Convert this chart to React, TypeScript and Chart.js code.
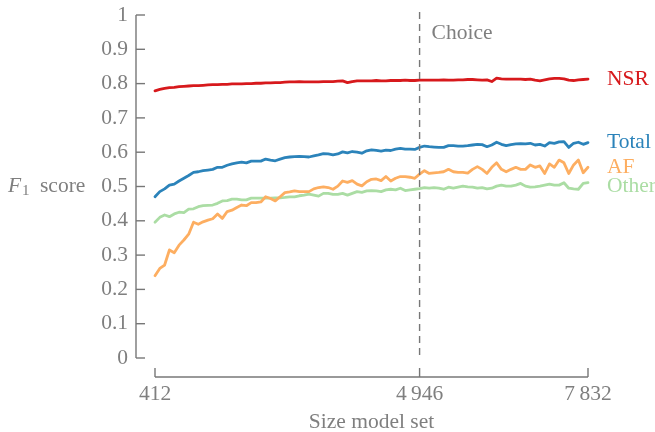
import { useEffect, useRef } from 'react';
import { Chart, registerables } from 'chart.js';

Chart.register(...registerables);

// ---------- data ----------
const xStart = 412;
const xEnd = 7832;
const choiceSize = 4946;
const nPoints = 91;
const sizes: number[] = Array.from({ length: nPoints }, (_, i) => Math.round(xStart + (i * (xEnd - xStart)) / (nPoints - 1)));

const nsr = [
  0.779, 0.783, 0.786, 0.788, 0.789, 0.791, 0.792, 0.793, 0.794, 0.794, 0.795, 0.796, 0.797, 0.797, 0.798, 0.798,
  0.799, 0.799, 0.799, 0.8, 0.8, 0.801, 0.801, 0.802, 0.802, 0.803, 0.803, 0.804, 0.805, 0.805, 0.806,
  0.805, 0.805, 0.805, 0.805, 0.806, 0.806, 0.806, 0.807, 0.808, 0.803, 0.806, 0.808, 0.808, 0.808, 0.808, 0.809,
  0.808, 0.808, 0.809, 0.809, 0.809, 0.81, 0.809, 0.809, 0.81, 0.81, 0.81, 0.81, 0.81, 0.811, 0.81,
  0.81, 0.811, 0.811, 0.812, 0.812, 0.811, 0.81, 0.811, 0.806, 0.816, 0.814, 0.813, 0.813, 0.813, 0.813, 0.812,
  0.813, 0.81, 0.808, 0.811, 0.814, 0.815, 0.815, 0.814, 0.81, 0.809, 0.811, 0.812, 0.813,
];

const total = [
  0.47, 0.485, 0.493, 0.504, 0.507, 0.516, 0.524, 0.532, 0.541, 0.543, 0.546, 0.548, 0.55, 0.556, 0.556, 0.562,
  0.566, 0.569, 0.571, 0.569, 0.574, 0.574, 0.574, 0.58, 0.577, 0.575, 0.58, 0.584, 0.586, 0.587, 0.588,
  0.587, 0.586, 0.589, 0.592, 0.596, 0.595, 0.592, 0.595, 0.601, 0.598, 0.602, 0.6, 0.597, 0.604, 0.607, 0.605,
  0.603, 0.606, 0.605, 0.609, 0.611, 0.609, 0.609, 0.608, 0.614, 0.618, 0.616, 0.615, 0.614, 0.614, 0.619,
  0.619, 0.618, 0.618, 0.619, 0.621, 0.623, 0.622, 0.616, 0.621, 0.629, 0.623, 0.619, 0.622, 0.624, 0.625, 0.624,
  0.626, 0.621, 0.623, 0.618, 0.628, 0.626, 0.63, 0.631, 0.614, 0.626, 0.629, 0.623, 0.628,
];

const af = [
  0.24, 0.261, 0.271, 0.315, 0.307, 0.329, 0.344, 0.361, 0.396, 0.39, 0.397, 0.402, 0.406, 0.42, 0.407, 0.427,
  0.431, 0.439, 0.446, 0.444, 0.453, 0.453, 0.455, 0.47, 0.465, 0.458, 0.47, 0.482, 0.484, 0.487, 0.485,
  0.485, 0.485, 0.493, 0.497, 0.499, 0.497, 0.492, 0.501, 0.516, 0.512, 0.517, 0.507, 0.502, 0.514, 0.521, 0.522,
  0.517, 0.529, 0.516, 0.524, 0.529, 0.529, 0.527, 0.524, 0.536, 0.546, 0.538, 0.54, 0.541, 0.543, 0.55,
  0.543, 0.541, 0.541, 0.539, 0.55, 0.558, 0.55, 0.538, 0.556, 0.569, 0.55, 0.543, 0.55, 0.556, 0.55, 0.55,
  0.563, 0.556, 0.56, 0.538, 0.566, 0.556, 0.577, 0.569, 0.538, 0.563, 0.577, 0.54, 0.556,
];

const other = [
  0.396, 0.41, 0.417, 0.412, 0.42, 0.425, 0.424, 0.434, 0.435, 0.441, 0.444, 0.445, 0.446, 0.451, 0.458, 0.459,
  0.463, 0.463, 0.461, 0.461, 0.466, 0.466, 0.466, 0.466, 0.466, 0.467, 0.467, 0.468, 0.47, 0.47, 0.473,
  0.475, 0.478, 0.475, 0.472, 0.48, 0.48, 0.477, 0.477, 0.48, 0.475, 0.48, 0.485, 0.483, 0.487, 0.488, 0.487,
  0.485, 0.49, 0.492, 0.49, 0.495, 0.488, 0.49, 0.492, 0.494, 0.497, 0.495, 0.497, 0.495, 0.492, 0.498,
  0.495, 0.498, 0.501, 0.499, 0.498, 0.495, 0.497, 0.493, 0.495, 0.501, 0.504, 0.501, 0.501, 0.504, 0.509, 0.501,
  0.498, 0.499, 0.501, 0.504, 0.507, 0.504, 0.504, 0.511, 0.495, 0.493, 0.492, 0.509, 0.511,
];

const seriesNames = ['NSR', 'Total', 'AF', 'Other'];
const seriesValues = [nsr, total, af, other];
const seriesColors = ['#d7191c', '#2b83ba', '#fdae61', '#abdda4'];
const labelOffsets = [0, 0, 0, 4];

const yTickValues = [0, 0.1, 0.2, 0.3, 0.4, 0.5, 0.6, 0.7, 0.8, 0.9, 1];
const yTickLabels = ['0', '0.1', '0.2', '0.3', '0.4', '0.5', '0.6', '0.7', '0.8', '0.9', '1'];
const xTickValues = [412, 4946, 7832];
const xTickLabels = ['412', '4\u2009946', '7\u2009832'];
const xTitle = 'Size model set';
const choiceLabel = 'Choice';

// ---------- style ----------
const FONT = '"Liberation Serif", "DejaVu Serif", serif';
const FS = 21.5;
const TEXT = '#7f7f7f';
const AXIS = '#777777';

const overlay = {
  id: 'overlay',
  afterDraw(chart: any) {
    const { ctx, chartArea: a, scales } = chart;
    const x = scales.x;
    const y = scales.y;
    ctx.save();
    ctx.strokeStyle = AXIS;
    ctx.lineWidth = 1.4;

    // choice dashed line
    const cx = x.getPixelForValue(choiceSize);
    ctx.setLineDash([7, 5]);
    ctx.beginPath();
    ctx.moveTo(cx, a.top - 3);
    ctx.lineTo(cx, a.bottom);
    ctx.stroke();
    ctx.setLineDash([]);

    ctx.fillStyle = TEXT;
    ctx.font = `${FS}px ${FONT}`;
    ctx.textAlign = 'left';
    ctx.textBaseline = 'middle';
    ctx.fillText(choiceLabel, cx + 12, a.top + 18);

    // y axis
    const ax = a.left;
    ctx.beginPath();
    ctx.moveTo(ax, y.getPixelForValue(1));
    ctx.lineTo(ax, y.getPixelForValue(0));
    ctx.stroke();
    ctx.textAlign = 'right';
    yTickValues.forEach((v, i) => {
      const py = y.getPixelForValue(v);
      ctx.beginPath();
      ctx.moveTo(ax, py);
      ctx.lineTo(ax + 9, py);
      ctx.stroke();
      ctx.fillText(yTickLabels[i], ax - 8, py);
    });

    // x axis (separate, below)
    const ay = a.bottom + 19;
    ctx.beginPath();
    ctx.moveTo(x.getPixelForValue(xTickValues[0]), ay);
    ctx.lineTo(x.getPixelForValue(xTickValues[xTickValues.length - 1]), ay);
    ctx.stroke();
    ctx.textAlign = 'center';
    xTickValues.forEach((v, i) => {
      const px = x.getPixelForValue(v);
      ctx.beginPath();
      ctx.moveTo(px, ay);
      ctx.lineTo(px, ay - 9);
      ctx.stroke();
      ctx.fillText(xTickLabels[i], px, ay + 17);
    });
    const midX = (x.getPixelForValue(xTickValues[0]) + x.getPixelForValue(xTickValues[xTickValues.length - 1])) / 2;
    ctx.fillText(xTitle, midX, ay + 45);

    // y title: F_1 score
    const ty = y.getPixelForValue(0.5);
    ctx.textAlign = 'left';
    ctx.font = `italic ${FS}px ${FONT}`;
    ctx.fillText('F', 8, ty);
    ctx.font = `${FS * 0.7}px ${FONT}`;
    ctx.fillText('1', 22, ty + 5);
    ctx.font = `${FS}px ${FONT}`;
    ctx.fillText('score', 40, ty);

    // series labels
    seriesNames.forEach((name, i) => {
      const vals = seriesValues[i];
      const py = y.getPixelForValue(vals[vals.length - 1]) + labelOffsets[i];
      ctx.fillStyle = seriesColors[i];
      ctx.fillText(name, 607, py);
    });
    ctx.restore();
  },
};

export default function App() {
  const ref = useRef<HTMLCanvasElement | null>(null);
  useEffect(() => {
    if (!ref.current) return;
    const unitsPerPx = (xEnd - xStart) / (588 - 155);
    const chart = new Chart(ref.current, {
      type: 'line',
      data: {
        datasets: seriesNames.map((name, i) => ({
          label: name,
          data: sizes.map((s, j) => ({ x: s, y: seriesValues[i][j] })),
          borderColor: seriesColors[i],
          backgroundColor: seriesColors[i],
          borderWidth: 2.8,
          pointRadius: 0,
          tension: 0,
          fill: false,
          borderJoinStyle: 'round' as const,
          borderCapStyle: 'round' as const,
        })),
      },
      options: {
        responsive: false,
        animation: false,
        events: [],
        layout: { padding: { left: 136, right: 655 - 600, top: 15, bottom: 432 - 358 } },
        plugins: { legend: { display: false }, tooltip: { enabled: false } },
        scales: {
          x: {
            type: 'linear',
            display: false,
            min: xStart - 19 * unitsPerPx,
            max: xEnd + 12 * unitsPerPx,
          },
          y: { type: 'linear', display: false, min: 0, max: 1 },
        },
      },
      plugins: [overlay],
    });
    return () => chart.destroy();
  }, []);
  return (
    <div style={{ position: 'absolute', left: 0, top: 0, width: 655, height: 432, background: '#fff' }}>
      <canvas ref={ref} width={655} height={432} style={{ width: 655, height: 432 }} />
    </div>
  );
}
